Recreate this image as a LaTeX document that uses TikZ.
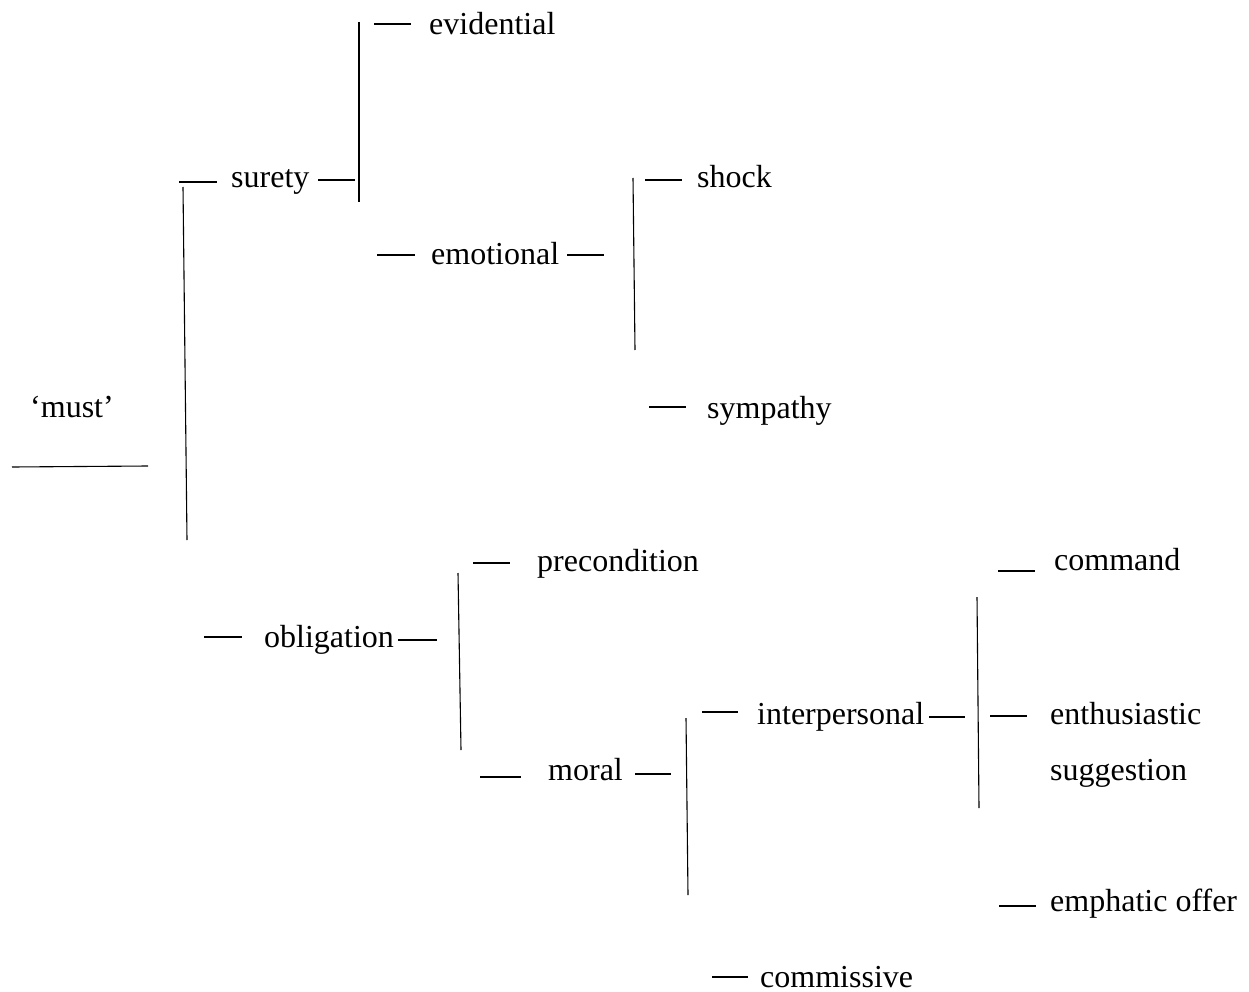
\documentclass[tikz,border=0pt]{standalone}
\usepackage{fontspec}
\setmainfont{Liberation Serif}
\begin{document}
\begin{tikzpicture}[x=1pt,y=-1pt,
  lbl/.style={anchor=base west,inner sep=0pt,font=\fontsize{32}{38}\selectfont},
  ln/.style={line width=1.1pt,black}]
\useasboundingbox (0,0) rectangle (1249,992);
% labels
\node[lbl] (must) at (30,417) {‘must’};
\node[lbl] (surety) at (231,188) {surety};
\node[lbl] (evid) at (429,35) {evidential};
\node[lbl] (emot) at (431,265) {emotional};
\node[lbl] (shock) at (697,188) {shock};
\node[lbl] (symp) at (707,418) {sympathy};
\node[lbl] (oblig) at (264,647) {obligation};
\node[lbl] (precond) at (537,571) {precondition};
\node[lbl] (moral) at (548,780) {moral};
\node[lbl] (interp) at (757,724) {interpersonal};
\node[lbl] (command) at (1054,570) {command};
\node[lbl] (enth) at (1050,724) {enthusiastic};
\node[lbl] (sugg) at (1050,780) {suggestion};
\node[lbl] (emph) at (1050,911) {emphatic offer};
\node[lbl] (commis) at (760,987) {commissive};
% root
\draw[ln] (12,467) -- (148,466);
\draw[ln] (183,187) -- (187,540);
% surety branch
\draw[ln] (179,182) -- (217,182);
\draw[ln] (318,180) -- (355,180);
\draw[ln] (359,22) -- (359,202);
\draw[ln] (374,24) -- (411,24);
\draw[ln] (377,255) -- (415,255);
\draw[ln] (567,255) -- (604,255);
\draw[ln] (633,178) -- (635,350);
\draw[ln] (645,180) -- (682,180);
\draw[ln] (649,407) -- (686,407);
% obligation branch
\draw[ln] (204,637) -- (242,637);
\draw[ln] (398,640) -- (437,640);
\draw[ln] (458,573) -- (461,750);
\draw[ln] (473,563) -- (510,563);
\draw[ln] (480,777) -- (521,777);
\draw[ln] (635,774) -- (671,774);
\draw[ln] (686,718) -- (688,895);
\draw[ln] (702,712) -- (738,712);
\draw[ln] (929,717) -- (965,717);
\draw[ln] (977,597) -- (979,808);
\draw[ln] (998,571) -- (1035,571);
\draw[ln] (990,716) -- (1027,716);
\draw[ln] (999,906) -- (1036,906);
\draw[ln] (712,977) -- (748,977);
\end{tikzpicture}
\end{document}
